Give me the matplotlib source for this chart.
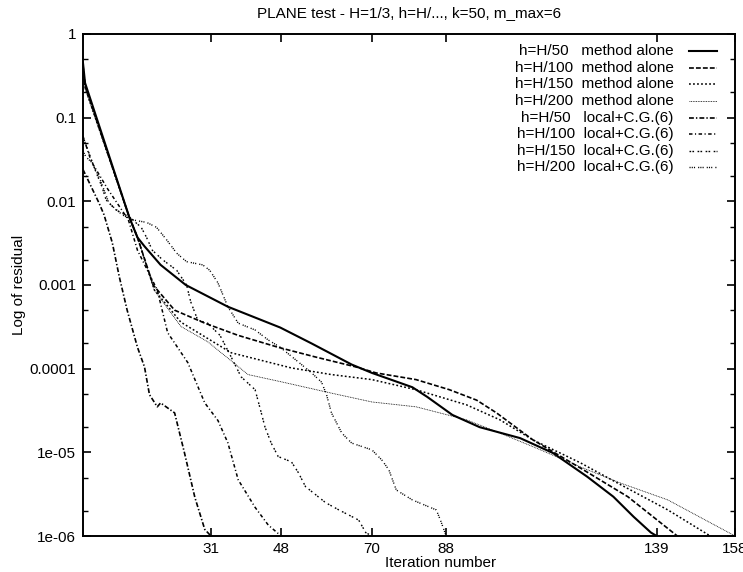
import matplotlib
matplotlib.use("Agg")
import matplotlib.pyplot as plt
from matplotlib.lines import Line2D

plt.rcParams["font.family"] = ["Liberation Sans", "DejaVu Sans"]
plt.rcParams["lines.scale_dashes"] = False

# "method alone" runs
m50_it = [0, 0.5, 11.2, 13.2, 14.9, 18.8, 24.9, 35.1, 47.8, 55.4, 65.1, 70, 79.8, 83.4,
          89.5, 96.1, 105.9, 113.9, 122.2, 128.5, 133.4, 137.6, 139]
m50_res = [0.45, 0.26, 6.5e-3, 3.7e-3, 2.9e-3, 1.74e-3, 1.0e-3, 5.5e-4, 3.1e-4, 2.0e-4,
           1.12e-4, 8.9e-5, 6.0e-5, 4.6e-5, 2.8e-5, 2.0e-5, 1.48e-5, 9.8e-6, 5.1e-6,
           2.95e-6, 1.7e-6, 1.1e-6, 1e-6]

m100_it = [0, 0.5, 11.2, 13.2, 17.0, 22.2, 29.5, 37.6, 47.3, 56.3, 66.1, 71, 80.7, 88.8,
           95.4, 100.2, 109, 121.2, 132, 144]
m100_res = [0.42, 0.24, 6.5e-3, 3.7e-3, 1.0e-3, 5.0e-4, 3.5e-4, 2.5e-4, 1.8e-4, 1.38e-4,
            1.05e-4, 8.9e-5, 7.4e-5, 5.6e-5, 4.2e-5, 2.96e-5, 1.41e-5, 6.2e-6, 2.95e-6, 1e-6]

m150_it = [0, 0.5, 11.2, 13.2, 17.3, 23.7, 35.9, 50.5, 60.2, 70, 80.7, 92.9, 101, 109,
           120.5, 129.5, 141.7, 152]
m150_res = [0.40, 0.23, 6.5e-3, 3.7e-3, 8.7e-4, 3.6e-4, 1.55e-4, 1.02e-4, 8.5e-5, 7.4e-5,
            5.6e-5, 3.7e-5, 2.45e-5, 1.41e-5, 7.5e-6, 4.3e-6, 2.05e-6, 1e-6]

m200_it = [0, 0.5, 11.2, 13.2, 17.3, 23.7, 30.2, 40, 49, 60.2, 70, 80.7, 92.9, 101, 109,
           120.5, 130.2, 141.7, 158]
m200_res = [0.38, 0.22, 6.5e-3, 3.7e-3, 8.7e-4, 3.2e-4, 2.1e-4, 8.5e-5, 6.8e-5, 5.1e-5,
            4.0e-5, 3.5e-5, 2.45e-5, 1.7e-5, 1.17e-5, 6.7e-6, 4.3e-6, 2.7e-6, 1e-6]

# "local+C.G.(6)" runs
l50_it = [0, 3.9, 5.1, 7.1, 8.8, 10.7, 13.2, 14.9, 16.1, 18.0, 18.8, 22.2, 24.6, 27.1,
          29.5, 31]
l50_res = [0.024, 9.5e-3, 6.9e-3, 3.2e-3, 1.25e-3, 5.0e-4, 1.8e-4, 1.05e-4, 4.9e-5,
           3.5e-5, 3.9e-5, 2.96e-5, 9.8e-6, 2.9e-6, 1.2e-6, 1e-6]

l100_it = [0, 2, 6, 11, 13.2, 18, 20.5, 25.4, 29.5, 32.7, 35.1, 37.6, 41.7, 44.9, 48]
l100_res = [0.06, 0.03, 0.014, 6.0e-3, 2.6e-3, 8.7e-4, 2.7e-4, 1.18e-4, 3.9e-5, 2.4e-5,
            1.3e-5, 4.7e-6, 2.2e-6, 1.35e-6, 1e-6]

l150_it = [0, 3.2, 4.6, 5.6, 8, 11.2, 14.1, 15.4, 16.8, 19.3, 22.7, 25.1, 26.1, 27.8,
           30.2, 33.2, 35.9, 38.3, 41.7, 43.2, 44.1, 45.6, 47.3, 50.5, 52.2, 53.9, 58.8,
           62, 66.8, 68.5, 70]
l150_res = [0.059, 0.022, 0.0149, 0.0104, 7.9e-3, 6.5e-3, 4.9e-3, 3.7e-3, 2.6e-3, 2.0e-3,
            1.5e-3, 1.0e-3, 6.3e-4, 3.8e-4, 3.5e-4, 2.5e-4, 1.38e-4, 8.0e-5, 5.6e-5,
            2.96e-5, 2.0e-5, 1.29e-5, 8.9e-6, 7.7e-6, 5.7e-6, 3.9e-6, 2.5e-6, 2.05e-6,
            1.55e-6, 1.1e-6, 1e-6]

l200_it = [0, 0.7, 2.2, 3.9, 5.1, 6.3, 9.5, 12, 15.4, 17.8, 20.2, 22.7, 25.1, 29, 30.7,
           32.7, 35.1, 37.6, 41.7, 44.9, 47.8, 51.5, 55.4, 57.8, 59, 60.2, 62.7, 65.1, 70,
           72.4, 74.1, 75.9, 79.8, 85.6, 86.6, 88]
l200_res = [0.04, 0.034, 0.029, 0.0195, 0.0137, 9.5e-3, 6.9e-3, 6.0e-3, 5.6e-3, 4.9e-3,
            3.5e-3, 2.4e-3, 1.9e-3, 1.74e-3, 1.5e-3, 1.06e-3, 5.5e-4, 3.5e-4, 2.9e-4,
            2.2e-4, 1.8e-4, 1.28e-4, 8.9e-5, 6.9e-5, 4.9e-5, 2.96e-5, 1.7e-5, 1.29e-5,
            1.07e-5, 8.1e-6, 6.2e-6, 3.55e-6, 2.7e-6, 2.05e-6, 1.55e-6, 1e-6]

labels = ["h=H/50   method alone", "h=H/100  method alone", "h=H/150  method alone",
          "h=H/200  method alone", "h=H/50   local+C.G.(6)", "h=H/100  local+C.G.(6)",
          "h=H/150  local+C.G.(6)", "h=H/200  local+C.G.(6)"]

xticks = [31, 48, 70, 88, 139, 158]
yticks = [1, 0.1, 0.01, 0.001, 0.0001, 1e-05, 1e-06]
ytick_labels = ["1", "0.1", "0.01", "0.001", "0.0001", "1e-05", "1e-06"]

series = [
    (m50_it, m50_res, dict(ls="-", lw=1.5)),
    (m100_it, m100_res, dict(ls=(0, (3.5, 1.5)), lw=1.2)),
    (m150_it, m150_res, dict(ls=(0, (1.3, 1.6)), lw=1.1)),
    (m200_it, m200_res, dict(ls=(0, (0.6, 0.6)), lw=0.6)),
    (l50_it, l50_res, dict(ls=(0, (3.5, 1.5, 1.0, 1.5)), lw=1.2)),
    (l100_it, l100_res, dict(ls=(0, (2.5, 1.8, 0.8, 1.8)), lw=1.1)),
    (l150_it, l150_res, dict(ls=(0, (1.2, 0.9, 1.2, 2.5)), lw=1.0)),
    (l200_it, l200_res, dict(ls=(0, (0.8, 0.8, 0.8, 0.8, 0.8, 2.2)), lw=1.0)),
]

fs = 11

fig = plt.figure(figsize=(7.43, 5.72), dpi=100)
ax = fig.add_axes([0.1117, 0.0629, 0.8777, 0.8777])

for it, res, st in series:
    ax.plot(it, res, color="black", **st)

ax.set_yscale("log")
ax.set_xlim(0, 158)
ax.set_ylim(1e-6, 1)
ax.set_xticks(xticks)
ax.set_yticks(yticks, ytick_labels)
ax.yaxis.set_minor_locator(matplotlib.ticker.LogLocator(base=10, subs=[2, 5]))
ax.yaxis.set_minor_formatter(matplotlib.ticker.NullFormatter())
ax.tick_params(which="both", direction="in", top=True, right=True, labelsize=fs, colors="black")
ax.tick_params(which="major", length=6, width=1.2)
ax.tick_params(which="minor", length=3.5, width=1.0)
ax.tick_params(axis="x", pad=4)
ax.tick_params(axis="y", pad=5)
for sp in ax.spines.values():
    sp.set_linewidth(1.4)

ax.set_title("PLANE test - H=1/3, h=H/..., k=50, m_max=6", fontsize=fs, pad=12)
ax.set_xlabel("Iteration number", fontsize=fs)
ax.xaxis.set_label_coords(0.549, -0.04)
ax.set_ylabel("Log of residual", fontsize=fs)
ax.yaxis.set_label_coords(-0.087, 0.5)

# legend, text right-aligned with the line sample on the right
y0 = 0.966
dy = 0.0331
for i, (lab, (_, _, st)) in enumerate(zip(labels, series)):
    y = y0 - i * dy
    ax.text(0.906, y, lab, transform=ax.transAxes, ha="right", va="center", fontsize=fs)
    ax.add_line(Line2D([0.93, 0.972], [y, y], transform=ax.transAxes, color="black", **st))

fig.savefig("out.png", dpi=100)
